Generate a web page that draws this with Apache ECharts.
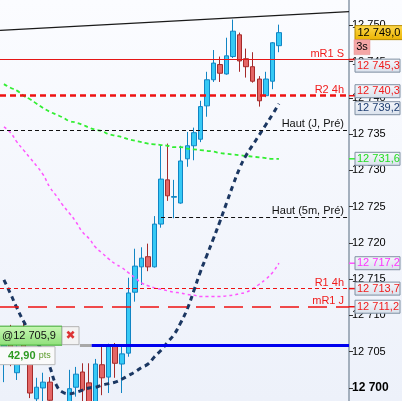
<!DOCTYPE html>
<html><head><meta charset="utf-8">
<script src="https://cdn.jsdelivr.net/npm/echarts@6/dist/echarts.min.js"></script>
<style>html,body{margin:0;padding:0;background:#fff}#c{width:402px;height:401px}</style>
</head><body><div id="c"></div>
<script>
// ---------- DATA ----------
const opens  = [12703.3,12707.3,12702.1,12707.6,12703.9,12698.5,12700.0,12700.8,12697.8,12696.7,12697.2,12700.1,12702.2,12700.7,12697.7,12703.2,12701.5,12705.8,12703.3,12704.8,12713.2,12716.7,12718.1,12716.7,12722.6,12728.7,12726.3,12725.5,12731.6,12733.4,12734.3,12738.9,12742.5,12744.6,12743.3,12745.7,12748.7,12745.4,12744.3,12742.6,12740.3,12742.3,12747.2];
const closes = [12705.9,12704.6,12704.6,12705.2,12699.3,12700.1,12700.8,12698.3,12696.3,12697.7,12699.9,12701.9,12699.7,12697.7,12703.3,12701.4,12705.8,12703.4,12704.7,12713.1,12716.8,12717.9,12716.7,12722.6,12728.8,12726.5,12726.4,12731.3,12733.4,12735.2,12738.8,12742.5,12744.8,12743.4,12745.8,12749.2,12745.1,12744.3,12742.3,12739.6,12742.6,12747.6,12749.0];
const lows   = [12700.8,12703.0,12701.1,12703.9,12698.6,12697.8,12698.1,12697.8,12695.9,12695.6,12696.7,12698.8,12697.9,12697.2,12697.0,12699.0,12699.3,12701.4,12699.3,12704.3,12711.9,12714.2,12716.1,12716.6,12722.1,12725.8,12723.4,12725.4,12730.5,12731.4,12733.9,12737.4,12742.2,12742.2,12743.2,12745.5,12743.6,12742.8,12742.1,12738.8,12740.1,12741.2,12746.3];
const highs  = [12707.3,12708.7,12705.9,12709.0,12704.6,12701.4,12702.1,12701.5,12698.1,12698.1,12702.5,12702.9,12703.4,12703.4,12704.0,12705.7,12706.1,12706.2,12705.7,12715.2,12719.2,12719.4,12719.9,12723.7,12733.5,12733.7,12728.7,12733.4,12735.3,12735.9,12739.6,12743.6,12746.6,12745.7,12748.3,12750.8,12749.0,12746.8,12746.3,12743.0,12743.6,12747.7,12750.1];

const navyCurve  = [12714.9,12713.0,12711.0,12709.2,12707.7,12706.3,12705.0,12702.9,12700.4,12699.4,12699.2,12699.4,12699.7,12700.0,12700.1,12700.4,12700.6,12700.8,12701.2,12701.7,12702.2,12702.8,12703.3,12704.3,12705.2,12706.3,12707.4,12709.0,12710.9,12713.4,12716.0,12718.3,12720.6,12723.0,12725.5,12728.0,12730.3,12732.1,12733.5,12734.9,12736.3,12737.7,12739.2];
const greenCurve = [12741.9,12741.4,12741.0,12740.3,12739.8,12739.2,12738.6,12738.1,12737.7,12737.3,12736.8,12736.6,12736.3,12735.9,12735.6,12735.4,12735.0,12734.8,12734.6,12734.3,12734.1,12733.9,12733.7,12733.6,12733.5,12733.4,12733.2,12733.2,12733.0,12732.9,12732.8,12732.7,12732.6,12732.4,12732.3,12732.2,12732.1,12732.0,12731.9,12731.8,12731.7,12731.6,12731.6];
const pinkCurve  = [12736.0,12735.2,12733.9,12732.8,12731.7,12730.6,12729.4,12727.7,12726.5,12725.2,12724.1,12722.9,12721.5,12720.6,12719.4,12718.6,12717.8,12717.1,12716.6,12715.9,12715.2,12714.5,12714.1,12713.8,12713.6,12713.4,12713.2,12713.1,12712.9,12712.8,12712.6,12712.6,12712.6,12712.6,12712.7,12712.8,12713.0,12713.2,12713.7,12714.3,12715.0,12715.9,12717.2];

const levelNames  = ['mR1 S','R2 4h','Haut (J, Pré)','Haut (5m, Pré)','R1 4h','mR1 J'];
const levelPrices = [12745.3,12740.3,12735.6,12723.6,12713.7,12711.2];
const haut5mStartIndex = 24;
const trendValues = [12749.3,12751.9];
const entryPrice = 12705.9;
const entryStartIndex = 11.6;
const entryBlueIndex = 13.4;
const pnlPoints = 42.90;
const countdownText = '3s';
const yTicks = [12700,12705,12710,12715,12720,12725,12730,12735,12740,12745,12750];

// ---------- STYLE / LAYOUT ----------
const FONT = 'Liberation Sans';
const xMin = -0.6, xMax = 52.7;
const yMin = 12698.2, yMax = 12753.5;
const RED = '#f01c1c';
const levelStyles = [
  {color:'#e51616', width:1,   type:'solid', label:RED},
  {color:'#ee1111', width:2.5, type:[6,4],   label:RED},
  {color:'#111111', width:1.2, type:[4,3],   label:'#111'},
  {color:'#111111', width:1.2, type:[4,3],   label:'#111'},
  {color:'#ee1111', width:1,   type:[4,3],   label:RED},
  {color:'#ee1111', width:1.5, type:[19,9],  label:RED}
];

function fmt(v, d){
  const s = v.toFixed(d);
  const parts = s.split('.');
  const ip = parts[0].replace(/\B(?=(\d{3})+(?!\d))/g, ' ');
  return parts[1] ? ip + ',' + parts[1] : ip;
}

const last = closes.length - 1;
const candleData = opens.map((o,i)=>[i, o, closes[i], lows[i], highs[i]]);
const toXY = arr => arr.map((v,i)=>[i,v]);

const mlData = levelPrices.map((v,i)=>{
  const st = levelStyles[i];
  const lab = {show:true, formatter: levelNames[i], position:'insideEndTop', distance:[5,0],
    color: st.label, fontSize:11, fontFamily:FONT};
  const ls = {color:st.color, width:st.width, type:st.type};
  if (i === 3) {
    return [{coord:[haut5mStartIndex, v], name:levelNames[i], lineStyle:ls, label:lab},
            {coord:[xMax, v]}];
  }
  return {yAxis:v, name:levelNames[i], lineStyle:ls, label:lab};
});
mlData.push([{coord:[xMin, trendValues[0]], lineStyle:{color:'#1a1a1a', width:1.3, type:'solid'}, label:{show:false}},
             {coord:[xMax, trendValues[1]]}]);
mlData.push([{coord:[entryStartIndex, entryPrice], lineStyle:{color:'#a8a8a8', width:3, type:'solid'}, label:{show:false}},
             {coord:[entryBlueIndex, entryPrice]}]);
mlData.push([{coord:[entryBlueIndex, entryPrice], lineStyle:{color:'#0000ee', width:3, type:'solid'}, label:{show:false}},
             {coord:[xMax, entryPrice]}]);

const chart = echarts.init(document.getElementById('c'), null, {renderer:'canvas'});
chart.setOption({
  animation:false,
  backgroundColor:{type:'linear', x:0, y:0, x2:0, y2:1,
    colorStops:[{offset:0,color:'#fbfcff'},{offset:1,color:'#edf1fa'}]},
  grid:{left:0, right:53, top:0, bottom:0, containLabel:false, outerBoundsMode:'none'},
  xAxis:{type:'value', min:xMin, max:xMax, show:false, axisLine:{onZero:false}},
  yAxis:{type:'value', position:'right', min:yMin, max:yMax,
    axisLine:{show:true, onZero:false, lineStyle:{color:'#8a98a8', width:1.5}},
    axisTick:{show:true, length:4, customValues:yTicks, lineStyle:{color:'#333', width:1}},
    axisLabel:{show:true, customValues:yTicks, margin:3, color:'#000', fontSize:11, fontFamily:FONT,
      formatter:v => (v % 100 === 0 ? '{b|' + fmt(v,0) + '}' : fmt(v,0)),
      rich:{b:{fontWeight:'bold', fontSize:12, fontFamily:FONT, color:'#000'}}},
    splitLine:{show:false}},
  series:[
    {type:'candlestick', data:candleData, barWidth:5, z:2,
      dimensions:['x','open','close','low','high'],
      encode:{x:'x', y:['open','close','low','high']},
      itemStyle:{color:'#36c9f5', color0:'#e46666', borderColor:'#1185c4', borderColor0:'#a52a2a', borderWidth:1}},
    {type:'line', data:toXY(pinkCurve), smooth:true, showSymbol:false, z:3,
      lineStyle:{color:'#ff55ff', width:1.5, type:[3,3]}},
    {type:'line', data:toXY(greenCurve), smooth:true, showSymbol:false, z:3,
      lineStyle:{color:'#33ee33', width:1.8, type:[4,3]}},
    {type:'line', data:toXY(navyCurve), smooth:true, showSymbol:false, z:4,
      lineStyle:{color:'#1b3762', width:3, type:[5,4]}},
    {type:'line', data:[], z:5, silent:true,
      markLine:{symbol:['none','none'], silent:true, animation:false, data:mlData}}
  ]
});

// ---------- PRICE TAGS (positions derived from the axis scale) ----------
function py(v){ return chart.convertToPixel({gridIndex:0}, [0, v])[1]; }
function px(x){ return chart.convertToPixel({gridIndex:0}, [x, yMin])[0]; }
const gridRight = px(xMax);
const boxX = gridRight + 6;
const tagFill = {type:'linear', x:0,y:0,x2:0,y2:1, colorStops:[{offset:0,color:'#f6f8fc'},{offset:1,color:'#d9e1ec'}]};
const g = [];

const cPrice = closes[last];
const goldTop = py(cPrice) - 7;
g.push({type:'rect', z:100, shape:{x:boxX, y:goldTop, width:402-boxX+2, height:14},
  style:{fill:{type:'linear',x:0,y:0,x2:0,y2:1,colorStops:[{offset:0,color:'#ffd94d'},{offset:1,color:'#eab300'}]}, stroke:'#b58a00', lineWidth:1}});
g.push({type:'text', z:101, style:{text:fmt(cPrice,1), x:boxX+2.5, y:goldTop+7, verticalAlign:'middle', fill:'#000', font:'11px "'+FONT+'"'}});
const cdTop = goldTop + 14;
g.push({type:'rect', z:100, shape:{x:boxX-1, y:cdTop, width:16, height:15}, style:{fill:'#f4a6a6', stroke:'#e59090', lineWidth:0.5}});
g.push({type:'text', z:101, style:{text:countdownText, x:boxX+7, y:cdTop+7.5, align:'center', verticalAlign:'middle', fill:'#000', font:'11px "'+FONT+'"'}});
const blockBottom = cdTop + 15;

const tags = [
  {v:levelPrices[0], color:'#f01c1c', conn:'#e51616'},
  {v:levelPrices[1], color:'#f01c1c', conn:'#ee1111'},
  {v:navyCurve[last], color:'#1c3c70', conn:null},
  {v:greenCurve[last], color:'#22dd22', conn:'#33ee33'},
  {v:pinkCurve[last], color:'#ff33ff', conn:'#ff55ff'},
  {v:levelPrices[4], color:'#f01c1c', conn:'#ee1111'},
  {v:levelPrices[5], color:'#f01c1c', conn:'#ee1111'}
];
const H = 12, GAP = 5;
tags.forEach(t => { t.y = py(t.v); t.cy = t.y; });
tags.sort((a,b)=>a.cy-b.cy);
for (let it=0; it<200; it++){
  let moved = false;
  const minFirst = blockBottom + GAP + H/2;
  if (tags[0].cy < minFirst - 0.01){ tags[0].cy = minFirst; moved = true; }
  for (let k=1; k<tags.length; k++){
    const d = tags[k].cy - tags[k-1].cy;
    if (d < H + GAP - 0.01){ const p = (H+GAP-d)/2; tags[k-1].cy -= p; tags[k].cy += p; moved = true; }
  }
  if (!moved) break;
}
tags.forEach(t => {
  if (t.conn) g.push({type:'line', z:99, shape:{x1:gridRight, y1:t.y, x2:boxX, y2:t.y}, style:{stroke:t.conn, lineWidth:1.5}});
  g.push({type:'rect', z:100, shape:{x:boxX, y:t.cy - H/2 - 0.5, width:45, height:H+1}, style:{fill:tagFill, stroke:'#7f8fa2', lineWidth:1}});
  g.push({type:'text', z:101, style:{text:fmt(t.v,1), x:boxX+2, y:t.cy, verticalAlign:'middle', fill:t.color, font:'11px "'+FONT+'"'}});
});

// entry tag on the left
const ey = py(entryPrice);
g.push({type:'rect', z:100, shape:{x:-1, y:ey-19, width:63, height:19},
  style:{fill:{type:'linear',x:0,y:0,x2:0,y2:1,colorStops:[{offset:0,color:'#c8f7b4'},{offset:1,color:'#8fe07a'}]}, stroke:'#3aa82c', lineWidth:1}});
g.push({type:'text', z:101, style:{text:'@' + fmt(entryPrice,1), x:2, y:ey-9.5, verticalAlign:'middle', fill:'#111', font:'11px "'+FONT+'"'}});
g.push({type:'rect', z:100, shape:{x:62, y:ey-18.5, width:17, height:18}, style:{fill:'#f3f3f3', stroke:'#b4b4b4', lineWidth:1}});
g.push({type:'text', z:101, style:{text:'✖', x:70.5, y:ey-9.5, align:'center', verticalAlign:'middle', fill:'#dd3333', font:'bold 12px "DejaVu Sans"'}});
g.push({type:'rect', z:100, shape:{x:-1, y:ey+1.5, width:56, height:18}, style:{fill:'#fafafa', stroke:'#b8b8b8', lineWidth:1}});
g.push({type:'text', z:101, style:{text:'{a|' + pnlPoints.toFixed(2).replace('.', ',') + '} {b|pts}', x:8, y:ey+10.5, verticalAlign:'middle',
  rich:{a:{fill:'#2e9a22', font:'bold 11px "'+FONT+'"'}, b:{fill:'#5a9a2a', font:'9px "'+FONT+'"'}}}});

chart.setOption({graphic: g});
</script>
</body></html>
